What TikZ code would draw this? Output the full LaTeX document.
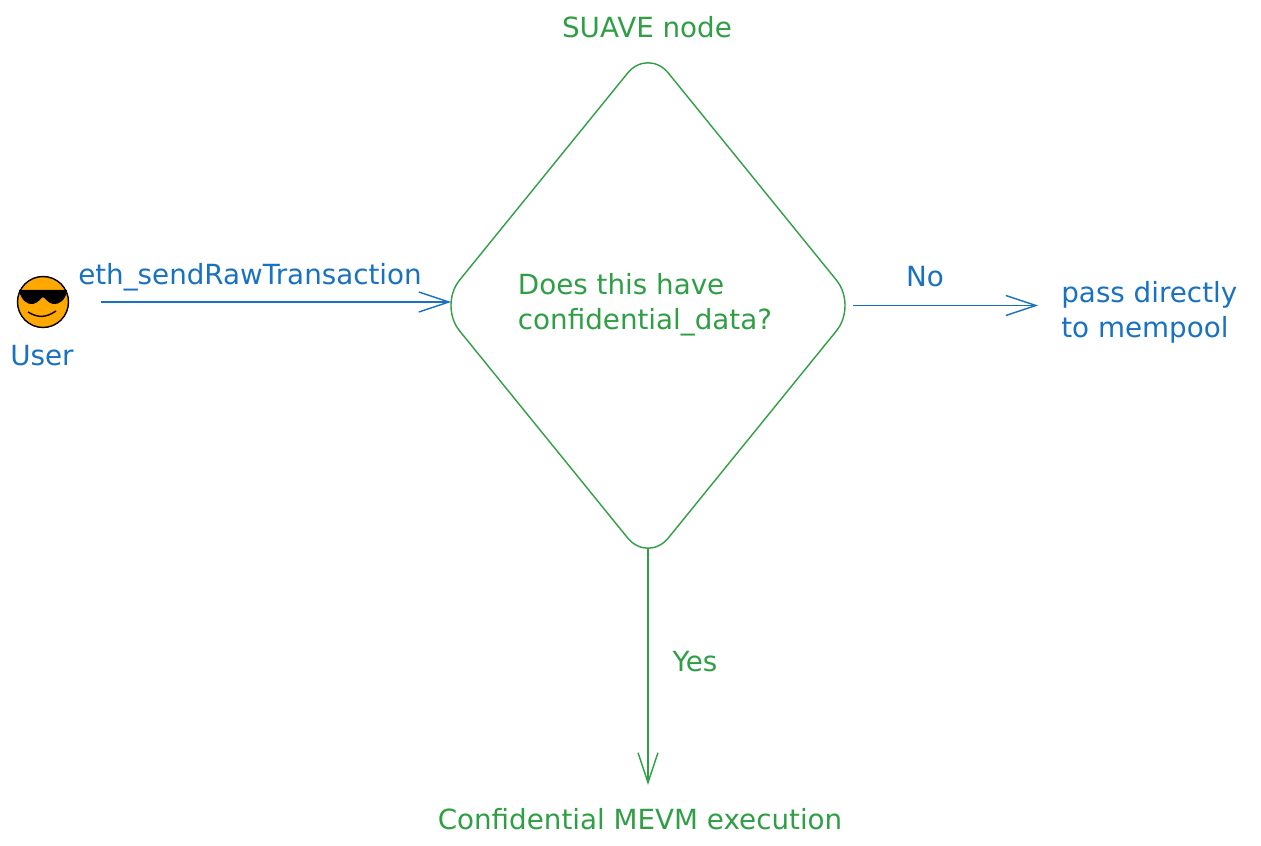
\documentclass[tikz,border=0pt]{standalone}
\usepackage{fontspec}
\setmainfont{DejaVu Sans}
\usepackage{xcolor}
\usetikzlibrary{
  arrows.meta,
  shapes.geometric
}
\definecolor{sketchblue}{HTML}{1971C2}
\definecolor{sketchgreen}{HTML}{2F9E44}
\definecolor{faceorange}{HTML}{FFA900}
\tikzset{
  decisionbox/.style={
    draw=sketchgreen,
    diamond,
    line width=0.8pt,
    rounded corners=6.5mm,
    inner sep=0pt,
    outer sep=0pt,
    minimum width=8.36cm,
    minimum height=10.3cm,
    aspect=0.81,
  },
  facebox/.style={
    draw=black,
    fill=faceorange,
    circle,
    line width=0.8pt,
    inner sep=0pt,
    outer sep=0pt,
    minimum size=1.02cm,
  },
  bluelbl/.style={
    text=sketchblue,
    font=\fontsize{15.8}{19.8}\selectfont,
    inner sep=0pt,
    align=left,
  },
  greenlbl/.style={
    text=sketchgreen,
    font=\fontsize{15.8}{19.8}\selectfont,
    inner sep=0pt,
    align=left,
  },
  bluearr/.style={
    -{Straight Barb[length=6mm,width=4mm]},
    line width=0.8pt,
    draw=sketchblue,
  },
  greenarr/.style={
    -{Straight Barb[length=6mm,width=4mm]},
    line width=0.8pt,
    draw=sketchgreen,
  },
}

\begin{document}
\begin{tikzpicture}[x=1cm, y=1cm]
  \useasboundingbox (0,0) rectangle (25.22,-16.92);

  % Left — user
  \node[facebox] (user) at (0.86,-6.04) {};
  \begin{scope}[shift={(user.center)}]
    \fill[black] (-.48,.24) -- (.48,.24) .. controls (.46,.04) and (.32,-.06) .. (.2,-.04)
      .. controls (.1,-.02) and (.04,.08) .. (0,.1)
      .. controls (-.04,.08) and (-.1,-.02) .. (-.2,-.04)
      .. controls (-.32,-.06) and (-.44,.04) .. (-.48,.24) -- cycle;
    \draw[black, line width=0.8pt] (-.3,-.2) .. controls (-.1,-.32) and (.05,-.32) .. (.26,-.18);
  \end{scope}
  \node[bluelbl] (userlbl) at (0.84,-7.12) {User};
  \node[bluelbl] (rawtx) at (5.0,-5.54) {eth\_sendRawTransaction};

  % Middle — decision
  \node[decisionbox] (suave) at (12.96,-6.11) {};
  \node[greenlbl] (suavelbl) at (12.94,-0.54) {SUAVE node};
  \node[greenlbl] (question) at (12.9,-6.09) {Does this have\\confidential\_data?};

  % Right — no branch
  \node[bluelbl] (nolbl) at (18.5,-5.54) {No};
  \node[bluelbl, anchor=west] (pass) at (21.22,-6.24) {pass directly\\to mempool};

  % Bottom — yes branch
  \node[greenlbl] (yeslbl) at (13.9,-13.24) {Yes};
  \node[greenlbl] (mevm) at (12.8,-16.38) {Confidential MEVM execution};

  \draw[bluearr, shorten <=6.4mm, shorten >=-2.4mm] (user.east) -- (user.east -| suave.west);
  \draw[bluearr, shorten <=-0.8mm, shorten >=4.6mm] (suave.east) -- (suave.east -| pass.west);
  \draw[greenarr, shorten <=-2.8mm, shorten >=4.6mm] (suave.south) -- (suave.south |- mevm.north);
\end{tikzpicture}
\end{document}
